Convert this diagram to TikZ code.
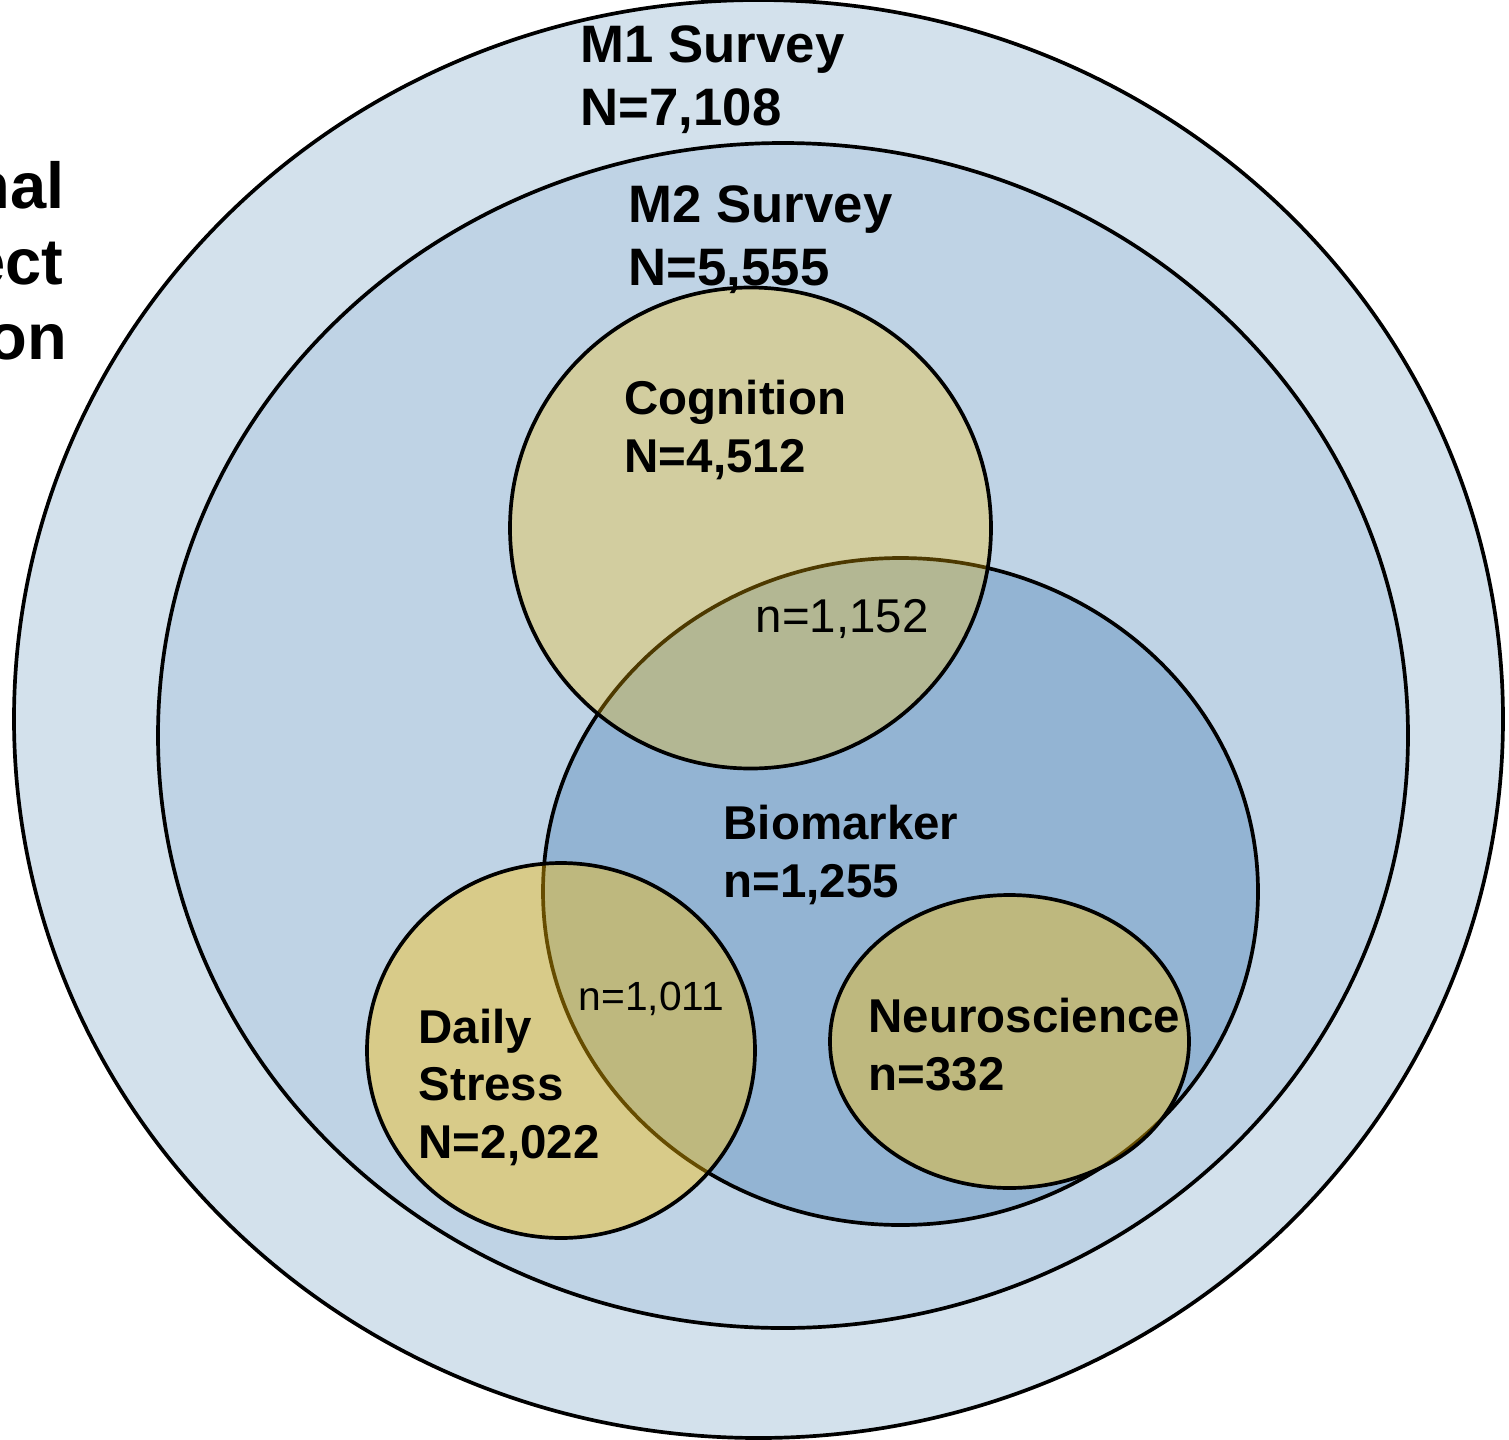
\documentclass[tikz,border=0pt]{standalone}
\usepackage{fontspec}
\setmainfont{Liberation Sans}
\usetikzlibrary{positioning}

\definecolor{mOneFill}{HTML}{D3E1EC}
\definecolor{mTwoFill}{HTML}{BFD3E5}
\definecolor{bioFill}{HTML}{93B4D3}
\definecolor{studyGold}{HTML}{FFC000}

\tikzset{
    ring/.style={draw=black, line width=1.05pt},
    substudy/.style={ring, fill=studyGold, fill opacity=#1},
    biglbl/.style={anchor=base west, align=left, inner sep=0pt, font=\fontsize{15}{17.9}\selectfont\bfseries},
    lbl/.style={anchor=base west, align=left, inner sep=0pt, font=\fontsize{13.5}{16.3}\selectfont\bfseries},
    cutlbl/.style={anchor=base east, inner sep=0pt, font=\fontsize{18.5}{21}\selectfont\bfseries},
}

\begin{document}
\begin{tikzpicture}
    \useasboundingbox (0,0) rectangle (15.09,-14.40);

    % survey waves
    \draw[ring, fill=mOneFill] (7.585,-7.19) ellipse [x radius=7.445, y radius=7.19];
    \draw[ring, fill=mTwoFill] (7.83,-7.355) ellipse [x radius=6.25, y radius=5.925];

    % sub-studies
    \draw[ring, fill=bioFill] (9.005,-8.915) ellipse [x radius=3.575, y radius=3.335];
    \draw[substudy=0.3] (7.505,-5.28) circle [radius=2.405];
    \draw[substudy=0.4] (5.61,-10.505) ellipse [x radius=1.94, y radius=1.875];
    \draw[substudy=0.4] (10.095,-10.415) ellipse [x radius=1.795, y radius=1.465];

    % cut-off title at the left
    \node[cutlbl] (titleA) at (0.65,-2.08) {nal};
    \node[cutlbl] (titleB) at (0.64,-2.84) {ect};
    \node[cutlbl] (titleC) at (0.68,-3.59) {on};

    % labels (base = last line)
    \node[biglbl] (m1lbl) at (5.80,-1.25) {M1 Survey\\N=7,108};
    \node[biglbl] (m2lbl) at (6.28,-2.85) {M2 Survey\\N=5,555};
    \node[lbl] (coglbl) at (6.24,-4.72) {Cognition\\N=4,512};
    \node[lbl] (biolbl) at (7.23,-8.97) {Biomarker\\n=1,255};
    \node[lbl] (dailylbl) at (4.18,-11.58) {Daily\\Stress\\N=2,022};
    \node[lbl] (neurolbl) at (8.68,-10.90) {Neuroscience\\n=332};

    \node[anchor=base west, inner sep=0pt, font=\fontsize{13.5}{16}\selectfont] (cogbio) at (7.55,-6.32) {n=1,152};
    \node[anchor=base west, inner sep=0pt, font=\fontsize{11.6}{14}\selectfont] (dailybio) at (5.78,-10.10) {n=1,011};
\end{tikzpicture}
\end{document}
